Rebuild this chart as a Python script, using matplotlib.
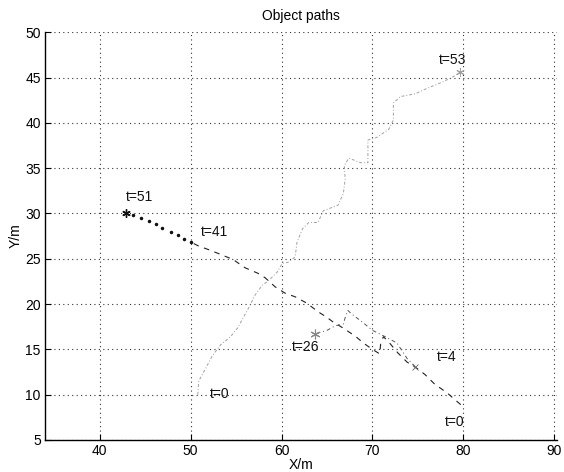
import matplotlib
matplotlib.use("Agg")
import matplotlib.pyplot as plt

plt.rcParams['font.family'] = ['Liberation Sans', 'DejaVu Sans']

# Object A (t=0 .. t=53)
a_x = [50.8, 50.9, 51.6, 52.4, 53.3, 54.4, 55.2, 55.8, 56.4, 57.1, 57.9, 58.6, 59.5, 60.1,
       60.7, 61.5, 61.7, 62.3, 63.0, 64.0, 64.6, 66.2, 66.8, 67.0, 66.9, 67.4, 68.7, 69.5,
       69.5, 70.5, 71.8, 72.3, 72.3, 73.1, 74.7, 76.0, 77.7, 78.9, 79.6]
a_y = [10.0, 11.5, 12.8, 14.3, 15.5, 16.4, 17.4, 18.5, 19.6, 21.0, 22.1, 22.6, 23.5, 24.5,
       24.6, 25.2, 26.8, 28.3, 29.0, 29.0, 30.3, 30.9, 32.2, 33.8, 35.3, 36.1, 35.6, 35.6,
       38.1, 38.4, 39.3, 40.3, 42.2, 42.9, 43.2, 43.8, 44.5, 45.1, 45.6]

# Object B (t=0 .. t=41), dashed
b_x = [79.7, 78.9, 78.2, 77.5, 76.9, 75.8, 74.9, 73.8, 72.8, 71.8, 71.2, 70.9, 70.8, 70.0,
       69.0, 68.3, 67.6, 66.7, 65.7, 64.9, 64.1, 63.3, 62.6, 61.5, 60.4, 59.3, 58.2, 57.4,
       56.0, 54.7, 53.5, 52.0, 50.9, 50.1]
b_y = [8.9, 9.6, 10.2, 10.7, 11.1, 12.2, 12.9, 13.6, 14.6, 15.8, 16.4, 15.6, 14.5, 15.0,
       15.7, 16.3, 16.8, 17.4, 18.0, 18.6, 19.1, 19.7, 20.2, 20.8, 21.2, 21.9, 22.9, 23.4,
       24.0, 24.9, 25.4, 26.0, 26.4, 26.8]

# Object B (t=41 .. t=51), dots
b2_x = [50.1, 49.3, 48.6, 47.8, 46.9, 46.2, 45.4, 44.5, 43.7, 42.9]
b2_y = [26.8, 27.2, 27.6, 28.0, 28.4, 28.8, 29.2, 29.5, 29.8, 30.1]

# Object C (t=4 .. t=26)
c_x = [74.7, 73.8, 72.7, 71.4, 70.0, 68.9, 67.6, 67.3, 67.0, 66.8, 65.9, 65.0, 63.7]
c_y = [13.1, 14.0, 15.7, 16.4, 17.1, 18.0, 19.0, 19.3, 18.5, 17.8, 17.6, 17.1, 16.7]

labels = ["t=53", "t=51", "t=41", "t=26", "t=4", "t=0", "t=0"]
label_x = [77.3, 42.9, 51.1, 61.1, 77.1, 52.1, 78.0]
label_y = [46.9, 31.8, 27.9, 15.3, 14.2, 10.1, 7.0]

xticks = [40, 50, 60, 70, 80, 90]
yticks = [5, 10, 15, 20, 25, 30, 35, 40, 45, 50]

fig = plt.figure(figsize=(5.64, 4.72), dpi=100)
ax = fig.add_axes([0.0798, 0.0678, 0.908, 0.864])

asterisk = (6, 2, 0)

ax.plot(a_x, a_y, linestyle='-.', color='#a0a0a0', linewidth=0.7, dashes=[3, 2, 1, 2])
ax.plot(a_x[-1], a_y[-1], marker=asterisk, color='#a0a0a0', markersize=6, markeredgewidth=0.7)
ax.plot(b_x, b_y, linestyle='--', color='#222222', linewidth=0.8, dashes=[5, 5])
ax.plot(b2_x, b2_y, linestyle='none', marker='.', color='#111111', markersize=3)
ax.plot(b2_x[-1], b2_y[-1], marker=asterisk, color='#111111', markersize=6,
        markeredgewidth=1.0, linestyle='none')
ax.plot(c_x, c_y, linestyle='-.', color='#555555', linewidth=0.7, dashes=[4, 3, 1, 3])
ax.plot(c_x[0], c_y[0], marker='x', color='#666666', markersize=4, markeredgewidth=0.6)
ax.plot(c_x[-1], c_y[-1], marker=asterisk, color='#888888', markersize=7,
        markeredgewidth=0.8, linestyle='none')

for s, x, y in zip(labels, label_x, label_y):
    ax.text(x, y, s, fontsize=10, ha='left', va='center', color='#111111')

ax.set_xlim(34, 90.3)
ax.set_ylim(5, 50)
ax.set_xticks(xticks)
ax.set_yticks(yticks)
ax.tick_params(direction='in', length=4, labelsize=10, top=False, right=False, pad=3)
ax.grid(True, linestyle=(0, (1, 3)), color='#333333', linewidth=0.8)
ax.spines['top'].set_visible(False)
ax.spines['right'].set_visible(False)
ax.spines['left'].set_linewidth(1.0)
ax.spines['bottom'].set_linewidth(1.0)

ax.set_xlabel("X/m", fontsize=10, labelpad=0)
ax.set_ylabel("Y/m", fontsize=10, labelpad=2)
ax.set_title("Object paths", fontsize=10, pad=9)

fig.savefig("out.png", dpi=100)
